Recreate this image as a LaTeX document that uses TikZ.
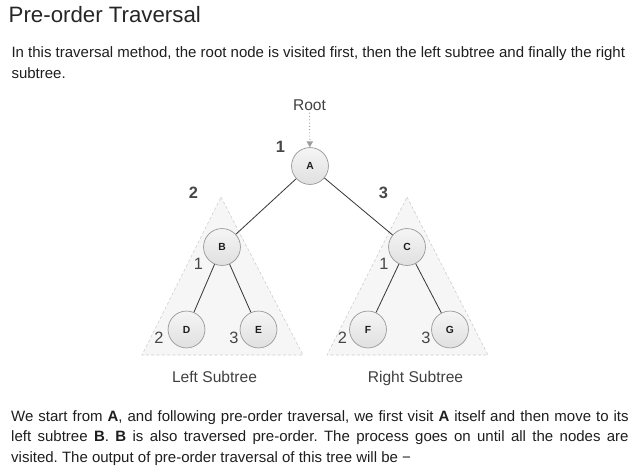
\documentclass[tikz,border=0pt]{standalone}
\usepackage{fontspec}
\setmainfont{Liberation Sans}
\usetikzlibrary{arrows.meta}
\definecolor{nodefill}{HTML}{E0E0E0}
\definecolor{nodeline}{HTML}{989898}
\definecolor{treefill}{HTML}{F6F6F6}
\definecolor{treeline}{HTML}{CDCDCD}
\definecolor{inktext}{HTML}{1E1E1E}
\frenchspacing

\begin{document}
\begin{tikzpicture}[x=0.03cm, y=0.03cm]
\tikzstyle{every node}+=[inner sep=0pt, text=inktext]
\tikzstyle{treenode}=[circle, draw=nodeline, line width=0.6pt, top color=white!96!black, bottom color=nodefill, minimum size=31.5pt, font=\fontsize{8.8}{10}\selectfont\bfseries]
\tikzstyle{link}=[black!78, line width=0.7pt]
\tikzstyle{subtree}=[fill=treefill, draw=treeline, dash pattern=on 2.5pt off 2pt, line width=0.5pt]
\tikzstyle{para}=[anchor=base west, font=\fontsize{12.8}{15}\selectfont]
\tikzstyle{subcap}=[anchor=base, font=\fontsize{13.3}{15}\selectfont, text=black!75]
\tikzstyle{visit}=[font=\fontsize{14}{16}\selectfont, text=black!72]
\tikzstyle{visitbold}=[font=\fontsize{14}{16}\selectfont\bfseries, text=black!72]
\useasboundingbox (0,0) rectangle (640,-467);
% text above the tree
\node[para, font=\fontsize{19}{22}\selectfont, text=black!85] (title) at (8.5,-22.7) {Pre-order Traversal};
\node[para] (intro1) at (11.3,-57.3) {In this traversal method, the root node is visited first, then the left subtree and finally the right};
\node[para] (intro2) at (11.3,-78) {subtree.};
% subtree areas
\draw[subtree] (221,-197) -- (303,-355) -- (142,-355) -- cycle;
\draw[subtree] (407,-197) -- (488,-355) -- (327,-355) -- cycle;
% tree
\node[treenode] (A) at (310,-166) {A};
\node[treenode] (B) at (222,-247) {B};
\node[treenode] (C) at (407,-247) {C};
\node[treenode] (D) at (186.5,-329.5) {D};
\node[treenode] (E) at (258.5,-329.5) {E};
\node[treenode] (F) at (368,-329.5) {F};
\node[treenode] (G) at (450,-329.5) {G};
\draw[link] (A) -- (B);
\draw[link] (A) -- (C);
\draw[link] (B) -- (D);
\draw[link] (B) -- (E);
\draw[link] (C) -- (F);
\draw[link] (C) -- (G);
\node[subcap] (root) at (309.5,-110) {Root};
\draw[gray!75, dotted, line width=0.8pt, shorten <=2pt, -{Triangle[width=5.5pt,length=5pt]}] (root) -- (A);
% visiting order
\node[visitbold] (oA) at (280.5,-146.5) {1};
\node[visitbold] (oB) at (193.5,-192.5) {2};
\node[visitbold] (oC) at (383.5,-192.5) {3};
\node[visit] (oBroot) at (198.5,-264) {1};
\node[visit] (oD) at (159,-337.5) {2};
\node[visit] (oE) at (234,-337.5) {3};
\node[visit] (oCroot) at (384,-264) {1};
\node[visit] (oF) at (342.5,-337.5) {2};
\node[visit] (oG) at (426,-337.5) {3};
\node[subcap] (leftcap) at (214.5,-382.7) {Left Subtree};
\node[subcap] (rightcap) at (415.5,-382.7) {Right Subtree};
% text below the tree
\node[para] (outro1) at (11,-421) {\makebox[527pt][s]{We start from \textbf{A}, and following pre-order traversal, we first visit \textbf{A} itself and then move to its}};
\node[para] (outro2) at (11,-441.5) {\makebox[527pt][s]{left subtree \textbf{B}. \textbf{B} is also traversed pre-order. The process goes on until all the nodes are}};
\node[para] (outro3) at (11,-462) {visited. The output of pre-order traversal of this tree will be −};
\end{tikzpicture}
\end{document}
